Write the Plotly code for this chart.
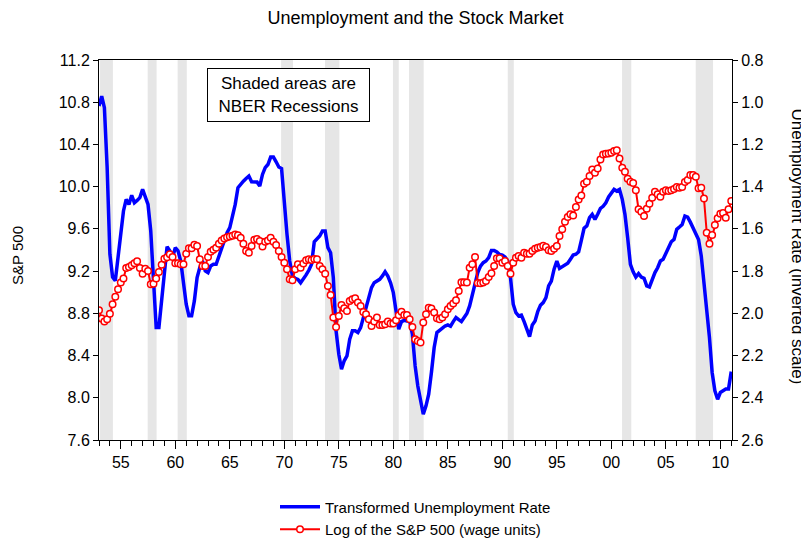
import pandas as pd
import plotly.graph_objects as go

# Quarterly observations, 1953Q1 .. 2011Q1
start_quarter = "1953Q1"

# Log of the S&P 500 in wage units (left axis)
sp500_log = [
    8.829, 8.750, 8.722, 8.744, 8.797, 8.886, 8.958, 9.028, 9.091, 9.129,
    9.230, 9.239, 9.255, 9.274, 9.293, 9.230, 9.176, 9.223, 9.201, 9.075,
    9.081, 9.129, 9.192, 9.261, 9.318, 9.331, 9.359, 9.334, 9.274, 9.274,
    9.264, 9.264, 9.365, 9.416, 9.416, 9.450, 9.438, 9.312, 9.249,
    9.249, 9.334, 9.384, 9.403, 9.422, 9.460, 9.491, 9.510, 9.520, 9.529,
    9.536, 9.548, 9.539, 9.517, 9.460, 9.391, 9.375, 9.438, 9.498, 9.504,
    9.485, 9.432, 9.479, 9.491, 9.517, 9.479, 9.447, 9.391, 9.334, 9.280,
    9.217, 9.122, 9.113, 9.217, 9.264, 9.233, 9.271, 9.302, 9.312,
    9.305, 9.315, 9.312, 9.249, 9.217, 9.176, 9.059, 8.974, 8.760, 8.671,
    8.775, 8.880, 8.848, 8.823, 8.918, 8.933, 8.943, 8.902, 8.870, 8.813,
    8.791, 8.744, 8.681, 8.722, 8.760, 8.690, 8.690, 8.697, 8.722, 8.703,
    8.703, 8.734, 8.782, 8.816, 8.785, 8.785, 8.744, 8.670, 8.555,
    8.539, 8.523, 8.712, 8.791, 8.854, 8.845, 8.807, 8.753, 8.744, 8.760,
    8.791, 8.838, 8.870, 8.892, 8.924, 9.012, 9.094, 9.094, 9.091, 9.233,
    9.264, 9.334, 9.088, 9.085, 9.091, 9.107, 9.144, 9.179, 9.249, 9.321,
    9.321, 9.280, 9.296, 9.249, 9.176, 9.280, 9.327, 9.343,
    9.327, 9.375, 9.365, 9.365, 9.391, 9.413, 9.422, 9.428, 9.441, 9.428,
    9.397, 9.391, 9.413, 9.438, 9.533, 9.596, 9.668, 9.712, 9.738, 9.728,
    9.807, 9.879, 9.917, 10.028, 10.047, 10.100, 10.163, 10.132, 10.173, 10.258,
    10.305, 10.312, 10.315, 10.321, 10.337, 10.346, 10.268, 10.179, 10.141,
    10.075, 10.047, 10.034, 9.965, 9.785, 9.763, 9.722, 9.791, 9.838, 9.895,
    9.952, 9.927, 9.905, 9.952, 9.965, 9.958, 9.965, 9.977, 9.996, 9.990,
    9.996, 10.044, 10.062, 10.110, 10.110, 10.094, 9.984, 9.990, 9.889, 9.564,
    9.460, 9.542, 9.637, 9.700, 9.744, 9.750, 9.706, 9.785, 9.864,
]

# Transformed unemployment rate (right axis, inverted)
unemp_transformed = [
    1.018, 0.971, 1.026, 1.310, 1.720, 1.828, 1.846, 1.736, 1.594, 1.515,
    1.460, 1.484, 1.441, 1.476, 1.465, 1.452, 1.413, 1.452, 1.484, 1.610,
    1.862, 2.067, 2.067, 1.941, 1.799, 1.684, 1.704, 1.736, 1.689, 1.704,
    1.752, 1.862, 1.957, 2.012, 2.012, 1.941, 1.831, 1.783, 1.752,
    1.799, 1.807, 1.776, 1.768, 1.768, 1.728, 1.689, 1.650, 1.618, 1.594,
    1.547, 1.484, 1.405, 1.386, 1.374, 1.361, 1.350, 1.377, 1.378, 1.378,
    1.397, 1.342, 1.310, 1.295, 1.260, 1.260, 1.282, 1.307, 1.314, 1.500,
    1.626, 1.752, 1.823, 1.834, 1.839, 1.855, 1.839, 1.818, 1.796,
    1.768, 1.661, 1.645, 1.634, 1.610, 1.610, 1.689, 1.713, 1.831, 2.083,
    2.194, 2.265, 2.225, 2.202, 2.123, 2.083, 2.083, 2.091, 2.068, 2.020,
    1.973, 1.918, 1.878, 1.855, 1.847, 1.839, 1.823, 1.803, 1.823, 1.855,
    1.902, 1.989, 2.075, 2.039, 2.033, 2.036, 2.036, 2.099, 2.249,
    2.344, 2.422, 2.478, 2.438, 2.383, 2.280, 2.162, 2.091, 2.080, 2.072,
    2.060, 2.055, 2.061, 2.039, 2.020, 2.030, 2.039, 2.020, 2.001, 1.965,
    1.910, 1.855, 1.807, 1.776, 1.760, 1.752, 1.736, 1.702, 1.702, 1.709,
    1.721, 1.724, 1.733, 1.752, 1.831, 1.957, 1.997, 2.012,
    2.008, 2.039, 2.080, 2.110, 2.055, 2.036, 1.992, 1.962, 1.949, 1.926,
    1.870, 1.847, 1.791, 1.752, 1.787, 1.780, 1.773, 1.763, 1.744, 1.724,
    1.720, 1.709, 1.654, 1.597, 1.586, 1.547, 1.531, 1.555, 1.531, 1.503,
    1.493, 1.476, 1.449, 1.429, 1.413, 1.421, 1.413, 1.460, 1.531,
    1.642, 1.768, 1.803, 1.828, 1.812, 1.828, 1.834, 1.870, 1.875, 1.839,
    1.807, 1.784, 1.752, 1.744, 1.716, 1.681, 1.661, 1.650, 1.602, 1.591,
    1.579, 1.539, 1.544, 1.568, 1.594, 1.621, 1.650, 1.728, 1.847, 1.973,
    2.115, 2.280, 2.367, 2.407, 2.375, 2.367, 2.359, 2.359, 2.276,
]

# NBER recessions (start, end) as shaded
recession_starts = ["1953-02-05", "1957-06-20", "1960-03-20", "1969-09-15", "1973-09-25",
                    "1979-12-20", "1981-06-10", "1990-07-01", "2000-12-25", "2007-09-28"]
recession_ends = ["1954-04-12", "1958-04-15", "1961-01-20", "1970-10-20", "1975-01-20",
                  "1980-07-01", "1982-10-15", "1991-01-20", "2001-10-30", "2009-05-01"]

left_ticks = [7.6, 8.0, 8.4, 8.8, 9.2, 9.6, 10.0, 10.4, 10.8, 11.2]
right_ticks = [0.8, 1.0, 1.2, 1.4, 1.6, 1.8, 2.0, 2.2, 2.4, 2.6]

dates = pd.period_range(start=start_quarter, periods=len(sp500_log), freq="Q").to_timestamp()

FONT = "Liberation Sans, Arial, sans-serif"

fig = go.Figure()
fig.add_trace(go.Scatter(
    x=dates, y=unemp_transformed, yaxis="y", mode="lines",
    name="Transformed Unemployment Rate",
    line=dict(color="#0000ff", width=3.5),
))
fig.add_trace(go.Scatter(
    x=dates, y=sp500_log, yaxis="y2", mode="lines+markers",
    name="Log of the S&P 500 (wage units)",
    line=dict(color="#ff0000", width=2),
    marker=dict(symbol="circle", size=6.5, color="white", line=dict(color="#ff0000", width=1.5)),
))

for s, e in zip(recession_starts, recession_ends):
    fig.add_shape(type="rect", xref="x", yref="paper", x0=s, x1=e, y0=0, y1=1,
                  fillcolor="#e6e6e6", line=dict(width=0), layer="below")

fig.update_layout(
    width=809, height=560,
    margin=dict(l=91, r=85, t=52, b=128),
    paper_bgcolor="white", plot_bgcolor="white",
    font=dict(family=FONT, size=16, color="black"),
    title=dict(text="Unemployment and the Stock Market", x=0.5, xref="paper",
               y=1 - 10 / 560, yanchor="middle", font=dict(size=18, color="black")),
    showlegend=True,
    legend=dict(orientation="v", x=0.5, xanchor="center", y=-0.133, yanchor="top",
                font=dict(size=15), bgcolor="rgba(0,0,0,0)", itemwidth=40),
    xaxis=dict(
        type="date", range=["1953-01-01", "2011-01-26"],
        tick0="1955-01-01", dtick="M60", tickformat="%y",
        ticks="outside", ticklen=8, tickcolor="black",
        minor=dict(dtick="M12", tick0="1953-01-01", ticks="outside", ticklen=5, tickcolor="black"),
        showline=True, linecolor="black", linewidth=1, mirror=True,
        showgrid=False, zeroline=False, tickfont=dict(size=16),
    ),
    yaxis=dict(
        side="right", range=[2.6, 0.8], tickvals=right_ticks, tickformat=".1f",
        ticks="outside", ticklen=5, tickcolor="black",
        showline=True, linecolor="black", linewidth=1,
        showgrid=False, zeroline=False, tickfont=dict(size=16),
    ),
    yaxis2=dict(
        overlaying="y", side="left", range=[7.6, 11.2], tickvals=left_ticks, tickformat=".1f",
        ticks="outside", ticklen=5, tickcolor="black",
        showline=True, linecolor="black", linewidth=1,
        showgrid=False, zeroline=False, tickfont=dict(size=16),
    ),
)

fig.add_annotation(
    text="Shaded areas are<br>NBER Recessions", xref="paper", yref="paper",
    x=0.2994, y=0.9079, xanchor="center", yanchor="middle",
    showarrow=False, align="center", font=dict(size=17),
    bordercolor="black", borderwidth=1, borderpad=4, bgcolor="white",
    width=153, height=44,
)
fig.add_annotation(
    text="S&P 500", xref="paper", yref="paper",
    x=-0.128, y=0.487, xanchor="center", yanchor="middle",
    showarrow=False, textangle=-90, font=dict(size=15),
)
fig.add_annotation(
    text="Unemployment Rate (inverted scale)", xref="paper", yref="paper",
    x=1.1027, y=0.509, xanchor="center", yanchor="middle",
    showarrow=False, textangle=90, font=dict(size=17),
)

fig.write_html("out.html")
